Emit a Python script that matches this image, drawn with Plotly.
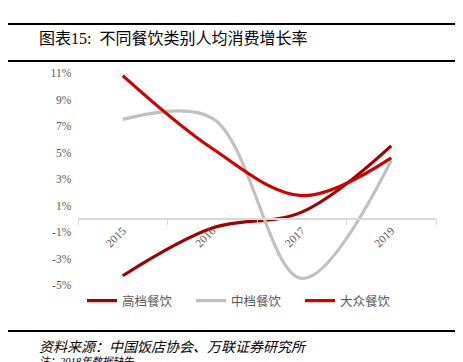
import plotly.graph_objects as go

years = ["2015", "2016", "2017", "2019"]
high_end = [-4.3, -0.7, 0.5, 5.5]
mid_end = [7.5, 7.6, -4.5, 4.4]
mass = [10.8, 5.3, 1.75, 4.6]
names = ["高档餐饮", "中档餐饮", "大众餐饮"]
colors = ["#A00000", "#C0C0C0", "#D00000"]
y_ticks = [-5, -3, -1, 1, 3, 5, 7, 9, 11]
y_labels = [f"{v}%\u2002" for v in y_ticks]

L, R, T, B = 70, 428, 65, 277
W, H = R - L, B - T

def px(x):
    return (x - L) / W

def py(y):
    return (B - y) / H

fig = go.Figure()
for name, vals, col in zip(names, [high_end, mid_end, mass], colors):
    fig.add_trace(go.Scatter(x=years, y=vals, name=name, mode="lines",
                             line=dict(color=col, width=3.2, shape="spline", smoothing=1.0)))

serif = "Liberation Serif, Noto Sans CJK SC"
fig.update_layout(
    width=463, height=362,
    margin=dict(l=L, r=463 - R, t=T, b=362 - B),
    plot_bgcolor="white", paper_bgcolor="white",
    showlegend=True,
    legend=dict(orientation="h", x=px(74), y=py(293), xanchor="left", yanchor="middle",
                font=dict(family="Noto Sans CJK SC", size=12.5, color="#595959"),
                entrywidth=64, entrywidthmode="pixels", itemwidth=30),
    xaxis=dict(type="category", range=[-0.5, 3.5], anchor="free", position=5 / 16,
               showline=True, linecolor="#D9D9D9", linewidth=1.5,
               ticks="outside", tickson="boundaries", ticklen=5, tickcolor="#D9D9D9",
               tickangle=-45, showgrid=False,
               tickfont=dict(family=serif, size=11.5, color="#595959")),
    yaxis=dict(range=[-5, 11], tickvals=y_ticks, ticktext=y_labels, showgrid=False,
               zeroline=False, showline=False, ticks="", 
               tickfont=dict(family=serif, size=11.5, color="#595959")),
    shapes=[
        dict(type="line", xref="paper", yref="paper", x0=px(0), x1=px(447), y0=py(16), y1=py(16),
             line=dict(color="black", width=2)),
        dict(type="line", xref="paper", yref="paper", x0=px(0), x1=px(447), y0=py(53), y1=py(53),
             line=dict(color="black", width=2)),
        dict(type="line", xref="paper", yref="paper", x0=px(0), x1=px(447), y0=py(323), y1=py(323),
             line=dict(color="black", width=2)),
    ],
    annotations=[
        dict(text="图表15:  不同餐饮类别人均消费增长率", xref="paper", yref="paper",
             x=px(29), y=py(31), xanchor="left", yanchor="middle", showarrow=False,
             font=dict(family=serif, size=16, color="black")),
        dict(text="<i>资料来源：中国饭店协会、万联证券研究所</i>", xref="paper", yref="paper",
             x=px(29), y=py(339), xanchor="left", yanchor="middle", showarrow=False,
             font=dict(family=serif, size=14, color="black")),
        dict(text="<i>注：2018年数据缺失</i>", xref="paper", yref="paper",
             x=px(29), y=py(353), xanchor="left", yanchor="middle", showarrow=False,
             font=dict(family=serif, size=10.5, color="black")),
    ],
)
fig.write_html("out.html")
